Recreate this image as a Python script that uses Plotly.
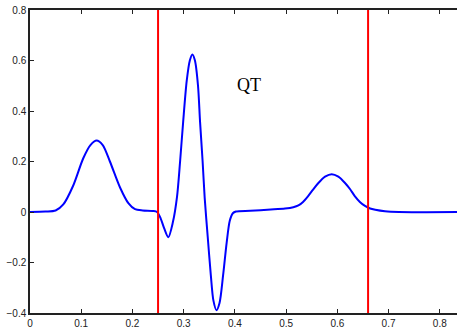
import plotly.graph_objects as go

# ECG trace
ecg_x = [0.000, 0.030, 0.050, 0.065, 0.084, 0.104, 0.118, 0.130, 0.142, 0.156,
         0.176, 0.192, 0.205, 0.220, 0.240, 0.248, 0.255, 0.262, 0.270, 0.279,
         0.287, 0.293, 0.299, 0.306, 0.312, 0.317, 0.322, 0.328, 0.332, 0.337,
         0.341, 0.347, 0.353, 0.358, 0.364, 0.370, 0.377, 0.384, 0.390, 0.396,
         0.402, 0.430, 0.470, 0.498, 0.514, 0.524, 0.533, 0.543, 0.553, 0.563,
         0.576, 0.589, 0.602, 0.615, 0.625, 0.634, 0.644, 0.654, 0.664, 0.674,
         0.693, 0.720, 0.834]
ecg_y = [0.000, 0.002, 0.006, 0.030, 0.103, 0.213, 0.265, 0.283, 0.265, 0.200,
         0.096, 0.035, 0.011, 0.006, 0.004, 0.000, -0.025, -0.065, -0.100, -0.040,
         0.060, 0.200, 0.357, 0.520, 0.600, 0.624, 0.600, 0.500, 0.357, 0.200,
         0.057, -0.100, -0.250, -0.350, -0.389, -0.360, -0.250, -0.120, -0.035, -0.005,
         0.002, 0.005, 0.010, 0.014, 0.019, 0.026, 0.040, 0.063, 0.090, 0.115,
         0.140, 0.150, 0.140, 0.115, 0.090, 0.063, 0.040, 0.024, 0.014, 0.009,
         0.003, 0.000, 0.000]

qt_bounds = [0.25, 0.66]
qt_label = "QT"
qt_label_pos = (0.428, 0.503)

x_ticks = [0, 0.1, 0.2, 0.3, 0.4, 0.5, 0.6, 0.7, 0.8]
y_ticks = [-0.4, -0.2, 0, 0.2, 0.4, 0.6, 0.8]

fig = go.Figure()
fig.add_trace(go.Scatter(x=ecg_x, y=ecg_y, mode="lines",
                         line=dict(color="#0000ff", width=2, shape="spline", smoothing=0.8),
                         showlegend=False, hoverinfo="skip"))
for xb in qt_bounds:
    fig.add_trace(go.Scatter(x=[xb, xb], y=[-0.4, 0.8], mode="lines",
                             line=dict(color="#ff0000", width=2),
                             showlegend=False, hoverinfo="skip"))

fig.add_annotation(x=qt_label_pos[0], y=qt_label_pos[1], text=qt_label, showarrow=False,
                   font=dict(family="Liberation Serif", size=18, color="#000000"))

W, H = 457, 329
fig.update_layout(
    width=W, height=H,
    margin=dict(l=30, r=0, t=10, b=12, pad=0),
    paper_bgcolor="white", plot_bgcolor="white",
    font=dict(family="Liberation Sans", size=10, color="#222222"),
)
fig.update_xaxes(range=[0, 0.8336], tickvals=x_ticks, ticktext=[f"{v:g}" for v in x_ticks],
                 showgrid=False, zeroline=False, showline=True, linecolor="#222222", linewidth=1.5,
                 mirror="ticks", ticks="inside", ticklen=4, tickcolor="#222222")
fig.update_yaxes(range=[-0.4, 0.8], tickvals=y_ticks, ticktext=[f"{v:g}".replace("-", "\u2212") for v in y_ticks],
                 showgrid=False, zeroline=False, showline=True, linecolor="#222222", linewidth=1.5,
                 ticks="inside", ticklen=4, tickcolor="#222222")

fig.write_html("out.html", config={"displayModeBar": False},
               post_script="document.body.style.margin='0';document.body.style.overflow='hidden';")
